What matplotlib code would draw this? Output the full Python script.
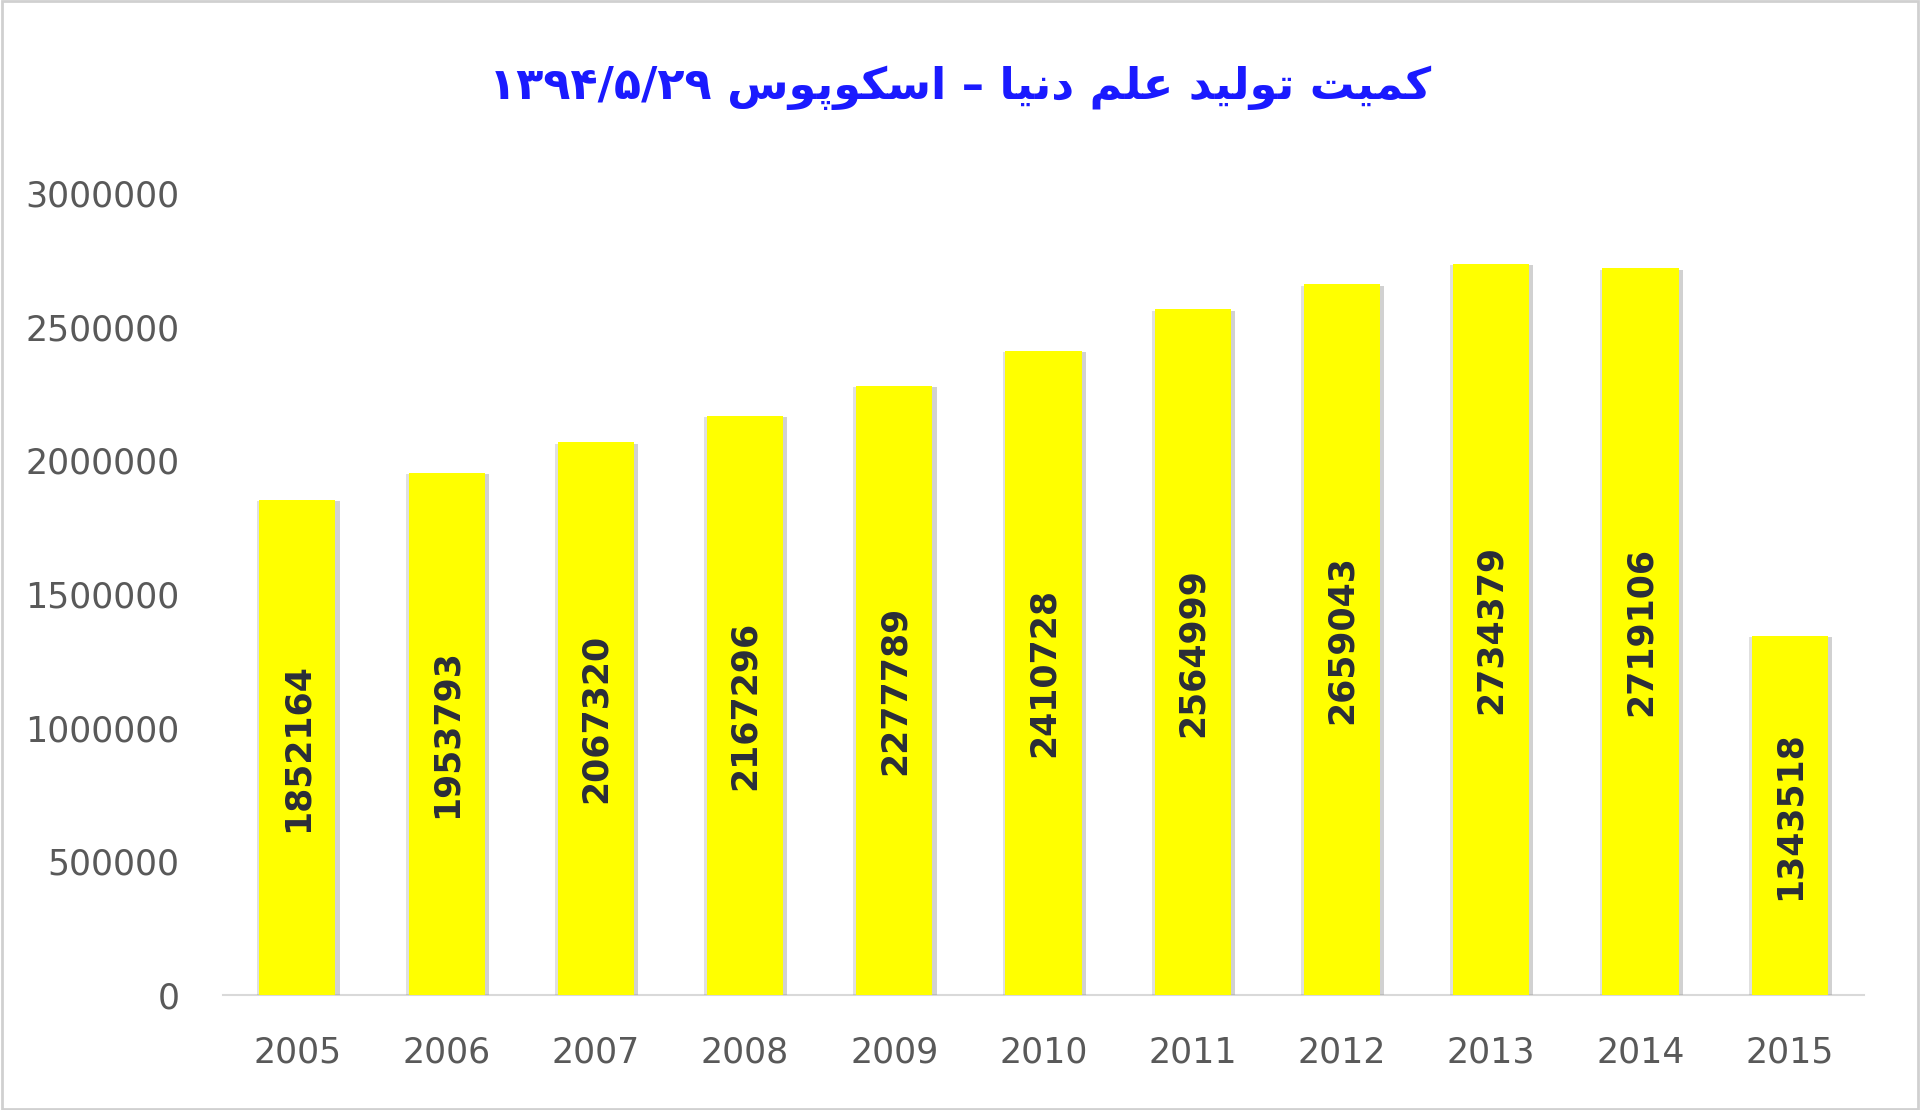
import matplotlib
matplotlib.use("Agg")
import matplotlib.pyplot as plt
import matplotlib.patheffects as pe
from matplotlib.patches import Rectangle

years = ["2005", "2006", "2007", "2008", "2009", "2010", "2011", "2012", "2013", "2014", "2015"]
values = [1852164, 1953793, 2067320, 2167296, 2277789, 2410728, 2564999, 2659043, 2734379, 2719106, 1343518]
yticks = [0, 500000, 1000000, 1500000, 2000000, 2500000, 3000000]

# Title: "کمیت تولید علم دنیا – اسکوپوس ۱۳۹۴/۵/۲۹" written in shaped (presentation) forms, visual order
w1 = "\uFE96\uFBFF\uFEE4\uFB90"            # کمیت
w2 = "\uFEAA\uFBFF\uFEDF\uFEEE\uFE97"      # تولید
w3 = "\uFEE2\uFEE0\uFECB"                  # علم
w4 = "\uFE8E\uFBFF\uFEE7\uFEA9"            # دنیا
w6 = "\uFEB1\uFEEE\uFB58\uFEEE\uFB91\uFEB3\uFE8D"  # اسکوپوس
date = "\u06F1\u06F3\u06F9\u06F4/\u06F5/\u06F2\u06F9"
title = date + " " + w6 + " \u2013 " + w4 + " " + w3 + " " + w2 + " " + w1

fig = plt.figure(figsize=(19.2, 11.1), dpi=100)
ax = fig.add_axes([0.116, 0.1036, 0.855, 0.7225])

x = list(range(len(years)))
bars = ax.bar(x, values, width=0.51, color="#FFFF00", zorder=3)
for b in bars:
    b.set_path_effects([pe.SimplePatchShadow(offset=(3, -1), shadow_rgbFace="#9a9a9a", alpha=0.45),
                        pe.SimplePatchShadow(offset=(-2, -1), shadow_rgbFace="#9a9a9a", alpha=0.3),
                        pe.Normal()])

for xi, v in zip(x, values):
    ax.text(xi, v / 2, str(v), rotation=90, ha="center", va="center",
            fontsize=25, fontweight="bold", color="#2a2d3a",
            family=["DejaVu Sans"], zorder=4)

ax.set_xlim(-0.5, len(years) - 0.5)
ax.set_ylim(0, 3000000)
ax.set_xticks(x)
ax.set_xticklabels(years)
ax.set_yticks(yticks)
ax.set_yticklabels([str(t) for t in yticks])
ax.tick_params(axis="both", length=0, labelsize=25, labelcolor="#595959")
ax.tick_params(axis="y", pad=31)
ax.tick_params(axis="x", pad=29)
for s in ["top", "right", "left"]:
    ax.spines[s].set_visible(False)
ax.spines["bottom"].set_color("#d9d9d9")
ax.spines["bottom"].set_linewidth(1.5)

fig.text(0.5, 0.921, title, ha="center", va="center", fontsize=32, fontweight="bold",
         color="#1a1aff", family=["DejaVu Sans"])

fig.patches.append(Rectangle((0.001, 0.001), 0.998, 0.998, transform=fig.transFigure,
                             fill=False, edgecolor="#d0d0d0", linewidth=2))

fig.savefig("out.png", dpi=100, facecolor="white")
